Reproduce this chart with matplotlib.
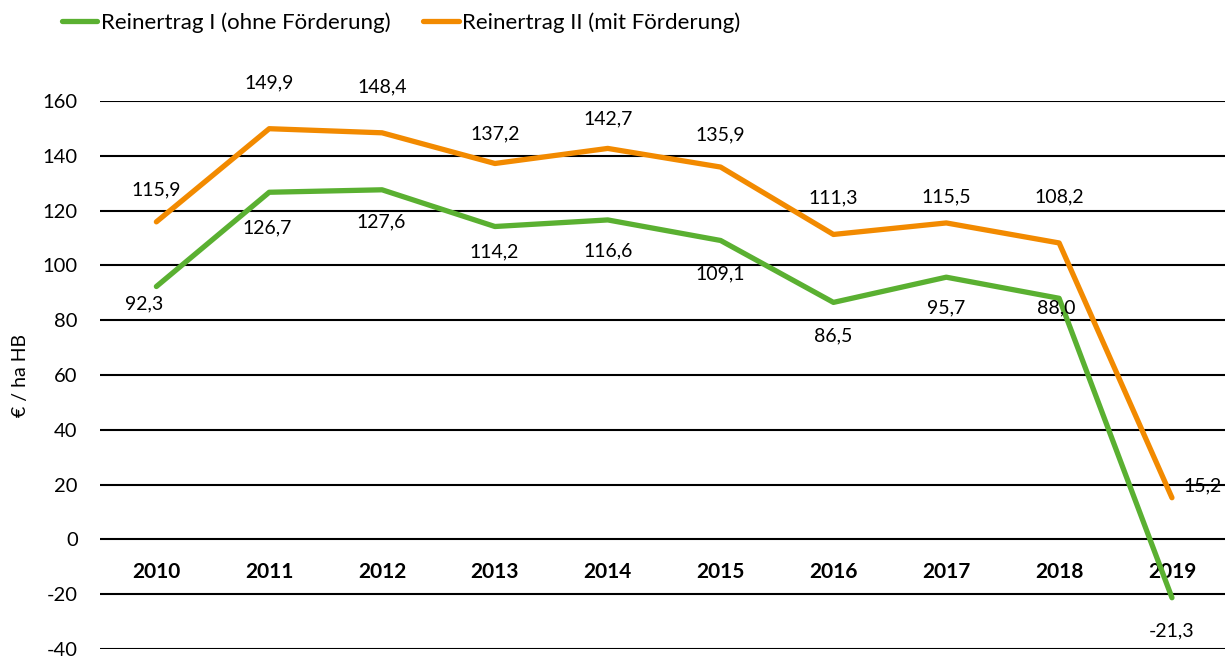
import matplotlib
matplotlib.use("Agg")
import matplotlib.pyplot as plt

years = ["2010", "2011", "2012", "2013", "2014", "2015", "2016", "2017", "2018", "2019"]
reinertrag_1 = [92.3, 126.7, 127.6, 114.2, 116.6, 109.1, 86.5, 95.7, 88.0, -21.3]
reinertrag_2 = [115.9, 149.9, 148.4, 137.2, 142.7, 135.9, 111.3, 115.5, 108.2, 15.2]
yticks = [-40, -20, 0, 20, 40, 60, 80, 100, 120, 140, 160]
label_1 = "Reinertrag I (ohne Förderung)"
label_2 = "Reinertrag II (mit Förderung)"

# label offsets from the point, in pixels (x, y up-positive)
off_1 = [(-12, -17), (-2, -36), (-1, -32), (-1, -25), (0, -31), (0, -33), (0, -33), (0, -31), (-3, -10), (0, -33)]
off_2 = [(0, 32), (0, 46), (0, 46), (0, 30), (0, 30), (0, 32), (0, 37), (0, 26), (0, 46), (31, 12)]

green = "#5AB031"
orange = "#F28A00"
plt.rcParams['font.family'] = ['Lato', 'DejaVu Sans']

fig = plt.figure(figsize=(12.25, 6.56), dpi=100)
ax = fig.add_axes([0.0816, 0.0107, 0.9184, 0.8353])
x = list(range(len(years)))

for v in yticks:
    ax.axhline(v, color="black", lw=1.5, zorder=1)

l1, = ax.plot(x, reinertrag_1, color=green, lw=3.8, solid_capstyle="round", zorder=3, label=label_1)
l2, = ax.plot(x, reinertrag_2, color=orange, lw=3.8, solid_capstyle="round", zorder=3, label=label_2)

def fmt(v):
    return f"{v:.1f}".replace(".", ",")

for i, v in enumerate(reinertrag_1):
    ax.annotate(fmt(v), (i, v), xytext=off_1[i], textcoords="offset pixels",
                ha="center", va="center", fontsize=14, zorder=4)
for i, v in enumerate(reinertrag_2):
    ax.annotate(fmt(v), (i, v), xytext=off_2[i], textcoords="offset pixels",
                ha="center", va="center", fontsize=14, zorder=4)

for i, y in enumerate(years):
    ax.text(i, -12, y, ha="center", va="center", fontsize=15, fontweight="bold", zorder=2)

ax.set_xlim(-0.5, 9.47)
ax.set_ylim(-40, 160)
ax.set_yticks(yticks)
ax.set_yticklabels([str(v) for v in yticks], fontsize=14.5)
ax.tick_params(axis="y", length=0, pad=16)
ax.set_xticks([])
for s in ax.spines.values():
    s.set_visible(False)
ax.set_ylabel("€ / ha HB", fontsize=14, labelpad=10)

fig.legend(handles=[l1, l2], loc="upper left", bbox_to_anchor=(0.034, 1.012), ncol=2,
           frameon=False, fontsize=16, handlelength=1.6, handletextpad=0.15,
           columnspacing=1.5)

fig.savefig("out.png", dpi=100)
